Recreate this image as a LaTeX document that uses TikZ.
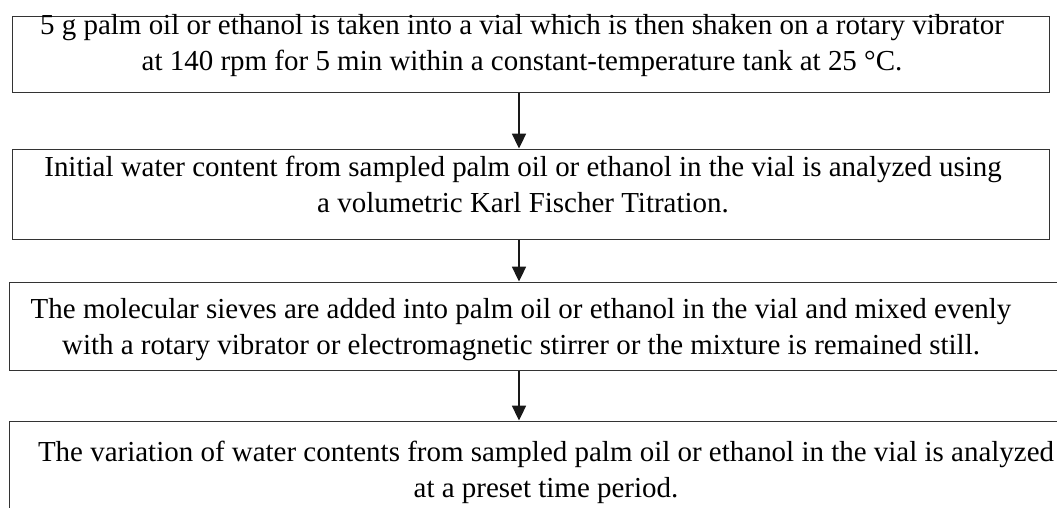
\documentclass[tikz,border=0pt]{standalone}
\usepackage{fontspec}
\setmainfont{Liberation Serif}
\usetikzlibrary{arrows.meta, positioning}
\def\stagewd{25.9cm}

\begin{document}
\begin{tikzpicture}[x=0.025cm, y=-0.025cm]
    \tikzstyle{stage}=[rectangle, draw=black!80, line width=0.7pt, inner sep=0pt, minimum width=\stagewd]
    \tikzstyle{wide stage}=[stage, minimum width=26.3cm]
    \tikzstyle{stagetext}=[align=center, inner sep=0pt, anchor=base, font=\fontsize{20.6}{24.9}\selectfont]
    \tikzstyle{flow}=[-{Triangle[width=0.35cm, length=0.37cm]}, line width=1.1pt, black!90]

    \useasboundingbox (0,0) rectangle (1057,507);
    \clip (0,0) rectangle (1057,507);

    % text nodes sit on the baseline of their last line
    \node[stage, minimum height=1.875cm] (S-1) at (531,54.5) {};
    \node[stagetext] (T-1) at (522,70)
        {5 g palm oil or ethanol is taken into a vial which is then shaken on a rotary vibrator\\
         at 140 rpm for 5 min within a constant-temperature tank at 25 °C.};

    \node[stage, minimum height=2.25cm] (S-2) at (531,194) {};
    \node[stagetext] (T-2) at (523,212)
        {Initial water content from sampled palm oil or ethanol in the vial is analyzed using\\
         a volumetric Karl Fischer Titration.};

    \node[wide stage, minimum height=2.2cm] (S-3) at (536,326) {};
    \node[stagetext] (T-3) at (521,354)
        {The molecular sieves are added into palm oil or ethanol in the vial and mixed evenly\\
         with a rotary vibrator or electromagnetic stirrer or the mixture is remained still.};

    \node[wide stage, minimum height=2.75cm] (S-4) at (536,476) {};
    \node[stagetext] (T-4) at (546,497)
        {The variation of water contents from sampled palm oil or ethanol in the vial is analyzed\\
         at a preset time period.};

	\coordinate (axis) at (519,0);
	\foreach \a/\b in {1/2,2/3,3/4}{
		\draw[flow] (S-\a.south -| axis) -- (S-\b.north -| axis);
	}
\end{tikzpicture}
\end{document}
